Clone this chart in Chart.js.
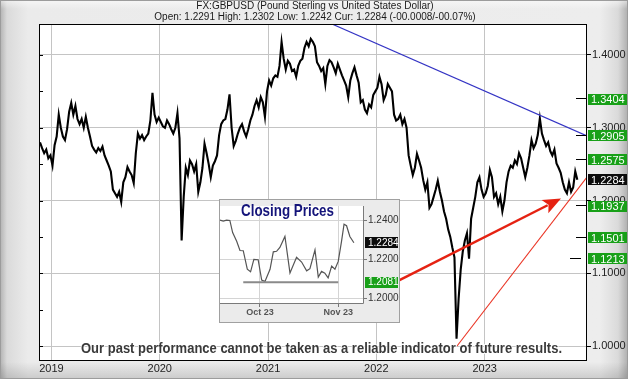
<!DOCTYPE html>
<html>
<head>
<meta charset="utf-8">
<script src="https://cdn.jsdelivr.net/npm/chart.js@4.4.0/dist/chart.umd.min.js"></script>
<style>
  html, body { margin: 0; padding: 0; background: #d0d0d0; }
  #wrap {
    position: relative; width: 628px; height: 379px; overflow: hidden;
    background:
      linear-gradient(to bottom, rgba(255,255,255,0.55), rgba(255,255,255,0) 9px, rgba(0,0,0,0) 362px, rgba(0,0,0,0.14) 379px),
      linear-gradient(to right, #b2b2b2 0, #dadada 7px, #ebebeb 28px, #ededed 600px, #dadada 618px, #aeaeae 628px);
    box-shadow: inset 0 0 0 1px #9c9c9c;
  }
  #main { position: absolute; left: 0; top: 0; }
  #inset { position: absolute; left: 219px; top: 199px; }
</style>
</head>
<body>
<div id="wrap">
  <canvas id="main" width="628" height="379"></canvas>
  <canvas id="inset" width="181" height="124"></canvas>
</div>
<script>
// weekly closes (GBPUSD)
const weeks2018 = [1.280, 1.272, 1.265, 1.270, 1.258, 1.262]; // from week 46
const weeks2019 = [1.248, 1.276, 1.288, 1.318, 1.300, 1.288, 1.283, 1.298, 1.322, 1.334,
  1.318, 1.330, 1.312, 1.305, 1.312, 1.300, 1.315, 1.300, 1.288, 1.275,
  1.270, 1.266, 1.272, 1.268, 1.274, 1.262, 1.255, 1.248, 1.240, 1.215,
  1.210, 1.205, 1.212, 1.198, 1.225, 1.232, 1.246, 1.240, 1.235, 1.224,
  1.265, 1.292, 1.285, 1.290, 1.283, 1.288, 1.292, 1.310, 1.348, 1.318,
  1.308, 1.314];
const weeks2020 = [1.308, 1.302, 1.300, 1.310, 1.305, 1.298, 1.292, 1.300, 1.320, 1.285,
  1.145, 1.205, 1.245, 1.235, 1.255, 1.250, 1.240, 1.250, 1.212, 1.225,
  1.245, 1.278, 1.265, 1.250, 1.232, 1.248, 1.254, 1.262, 1.290, 1.305,
  1.310, 1.312, 1.325, 1.346, 1.300, 1.275, 1.282, 1.292, 1.300, 1.305,
  1.295, 1.288, 1.298, 1.310, 1.318, 1.330, 1.338, 1.328, 1.342, 1.335,
  1.315, 1.350];
const weeks2021 = [1.365, 1.358, 1.368, 1.372, 1.370, 1.385, 1.418, 1.395, 1.380, 1.392,
  1.388, 1.378, 1.380, 1.370, 1.385, 1.392, 1.395, 1.410, 1.418, 1.412,
  1.422, 1.418, 1.412, 1.390, 1.385, 1.378, 1.382, 1.360, 1.385, 1.393,
  1.390, 1.383, 1.375, 1.388, 1.380, 1.372, 1.365, 1.358, 1.342, 1.365,
  1.375, 1.383, 1.372, 1.362, 1.335, 1.338, 1.325, 1.320, 1.332, 1.328,
  1.345, 1.350];
const weeks2022 = [1.355, 1.370, 1.360, 1.338, 1.345, 1.360, 1.355, 1.350, 1.318, 1.310,
  1.312, 1.318, 1.305, 1.312, 1.300, 1.262, 1.248, 1.235, 1.245, 1.264,
  1.255, 1.245, 1.228, 1.215, 1.225, 1.190, 1.195, 1.205, 1.215, 1.227,
  1.212, 1.200, 1.185, 1.175, 1.160, 1.150, 1.135, 1.122, 1.010, 1.065,
  1.105, 1.130, 1.145, 1.155, 1.120, 1.175, 1.190, 1.205, 1.225, 1.232,
  1.215, 1.205];
const weeks2023 = [1.210, 1.220, 1.242, 1.232, 1.205, 1.210, 1.195, 1.205, 1.185, 1.200,
  1.225, 1.240, 1.248, 1.245, 1.255, 1.250, 1.265, 1.258, 1.245, 1.232,
  1.245, 1.262, 1.283, 1.272, 1.278, 1.290, 1.313, 1.292, 1.283, 1.275,
  1.280, 1.268, 1.262, 1.270, 1.251, 1.245, 1.238, 1.225, 1.215, 1.210,
  1.225, 1.212, 1.218, 1.240, 1.2284];

const yearTicks = [2019, 2020, 2021, 2022, 2023];
const priceTicks = [1.0, 1.1, 1.2, 1.3, 1.4];
const minorPriceTicks = [1.00, 1.05, 1.10, 1.15, 1.20, 1.25, 1.30, 1.35, 1.40];
const levelValues = [1.3404, 1.2905, 1.2575, 1.1937, 1.1501, 1.1213];
const currentClose = 1.2284;

// trend lines and arrow, in (year, price)
const resistanceLine = [{ x: 2021.59, y: 1.4426 }, { x: 2023.945, y: 1.2887 }];
const supportLine = [{ x: 2022.745, y: 1.0 }, { x: 2023.945, y: 1.2323 }];
const arrowFrom = { x: 2022.20, y: 1.0894 };
const arrowTo = { x: 2023.705, y: 1.2028 };

// inset: closing prices, days from 1 Oct 2023
const insetDays = [-15.8, -14.5, -13.2, -11.9, -10.8, -9.2, -7.9, -6.6, -5.0, -3.7,
  -2.4, -0.7, 0.7, 2.0, 4.0, 5.3, 6.6, 7.9, 9.9, 11.9,
  14.5, 16.5, 18.5, 19.8, 21.8, 23.1, 24.4, 25.7, 27.0, 28.4,
  29.7, 31.0, 32.3, 33.3, 34.3, 35.6, 37.2];
const insetCloses = [1.2400, 1.2395, 1.2400, 1.2398, 1.2336, 1.2291, 1.2244, 1.2243, 1.2148, 1.2135,
  1.2199, 1.2197, 1.2093, 1.2085, 1.2148, 1.2237, 1.2240, 1.2260, 1.2316, 1.2129,
  1.2209, 1.2185, 1.2140, 1.2151, 1.2247, 1.2108, 1.2137, 1.2128, 1.2104, 1.2164,
  1.2148, 1.2188, 1.2291, 1.2379, 1.2371, 1.2316, 1.2284];
const insetPriceTicks = [1.20, 1.22, 1.24];
const insetMonthTicks = [0, 31];
const insetMonthLabels = ['Oct 23', 'Nov 23'];
const insetSupport = 1.2081;
const insetSupportDays = [-6.6, 31];

const titleText = 'FX:GBPUSD (Pound Sterling vs United States Dollar)';
const subtitleText = 'Open: 1.2291 High: 1.2302 Low: 1.2242 Cur: 1.2284 (-00.0008/-00.07%)';
const disclaimerText = 'Our past performance cannot be taken as a reliable indicator of future results.';

const FONT = "'Liberation Sans', Arial, sans-serif";
const GREEN = '#18a018';

function weekly(year, firstWeek, values) {
  return values.map((v, i) => ({ x: year + (firstWeek + i + 0.5) / 52, y: v }));
}
const closeSeries = [
  ...weekly(2018, 46, weeks2018),
  ...weekly(2019, 0, weeks2019),
  ...weekly(2020, 0, weeks2020),
  ...weekly(2021, 0, weeks2021),
  ...weekly(2022, 0, weeks2022),
  ...weekly(2023, 0, weeks2023)
];

function labelBox(ctx, x, y, w, h, bg, text, font) {
  ctx.fillStyle = bg;
  ctx.fillRect(x, Math.round(y - h / 2), w, h);
  ctx.fillStyle = '#fff';
  ctx.font = font;
  ctx.textAlign = 'left';
  ctx.textBaseline = 'middle';
  ctx.fillText(text, x + 3, Math.round(y) + 0.5);
}

function drawArrow(ctx, x1, y1, x2, y2) {
  const ang = Math.atan2(y2 - y1, x2 - x1);
  const len = 18, half = 7.5;
  const bx = x2 - len * Math.cos(ang), by = y2 - len * Math.sin(ang);
  ctx.strokeStyle = '#e52212';
  ctx.lineWidth = 2.5;
  ctx.beginPath();
  ctx.moveTo(x1, y1);
  ctx.lineTo(bx + 3 * Math.cos(ang), by + 3 * Math.sin(ang));
  ctx.stroke();
  ctx.fillStyle = '#e52212';
  ctx.beginPath();
  ctx.moveTo(x2, y2);
  ctx.lineTo(bx + half * Math.sin(ang), by - half * Math.cos(ang));
  ctx.lineTo(bx + 4 * Math.cos(ang), by + 4 * Math.sin(ang));
  ctx.lineTo(bx - half * Math.sin(ang), by + half * Math.cos(ang));
  ctx.closePath();
  ctx.fill();
}

const mainDecor = {
  id: 'mainDecor',
  beforeDraw(chart) {
    const { ctx, chartArea: a } = chart;
    ctx.save();
    ctx.fillStyle = '#fff';
    ctx.fillRect(a.left, a.top, a.right - a.left, a.bottom - a.top);
    ctx.restore();
  },
  afterDatasetsDraw(chart) {
    const { ctx, scales: { x, y } } = chart;
    ctx.save();
    drawArrow(ctx, x.getPixelForValue(arrowFrom.x), y.getPixelForValue(arrowFrom.y),
      x.getPixelForValue(arrowTo.x), y.getPixelForValue(arrowTo.y));
    ctx.restore();
  },
  afterDraw(chart) {
    const { ctx, chartArea: a, scales: { y } } = chart;
    ctx.save();
    // plot frame
    ctx.strokeStyle = '#000';
    ctx.lineWidth = 1;
    ctx.strokeRect(a.left + 0.5, a.top + 0.5, a.right - a.left - 1, a.bottom - a.top);
    // minor ticks on the left edge
    ctx.beginPath();
    minorPriceTicks.forEach(v => {
      const py = Math.round(y.getPixelForValue(v)) + 0.5;
      ctx.moveTo(a.left, py);
      ctx.lineTo(a.left + 4, py);
    });
    ctx.stroke();
    // level markers and boxes
    const boxFont = `11px ${FONT}`;
    levelValues.forEach((v, i) => {
      const py = Math.round(y.getPixelForValue(v)) + 0.5;
      const x0 = i === levelValues.length - 1 ? a.right - 17 : a.right - 11;
      ctx.strokeStyle = '#000';
      ctx.beginPath();
      ctx.moveTo(x0, py);
      ctx.lineTo(x0 + 11, py);
      ctx.stroke();
      labelBox(ctx, a.right + 1, y.getPixelForValue(v) + 1, 39, 11, GREEN, v.toFixed(4), boxFont);
    });
    labelBox(ctx, a.right + 1, y.getPixelForValue(currentClose), 39, 11, '#0c0c0c', currentClose.toFixed(4), boxFont);
    // titles
    ctx.fillStyle = '#1a1a1a';
    ctx.textAlign = 'center';
    ctx.textBaseline = 'middle';
    ctx.font = `10px ${FONT}`;
    ctx.fillText(titleText, 315, 6.5, 238);
    ctx.fillText(subtitleText, 315, 17.5, 340);
    // disclaimer
    ctx.font = `bold 15px ${FONT}`;
    ctx.lineWidth = 2;
    ctx.strokeStyle = 'rgba(255,255,255,0.9)';
    ctx.strokeText(disclaimerText, 321.5, 348.5, 481);
    ctx.fillStyle = '#3a3a3a';
    ctx.fillText(disclaimerText, 321.5, 348.5, 481);
    ctx.restore();
  }
};

new Chart(document.getElementById('main'), {
  type: 'line',
  data: {
    datasets: [
      { data: resistanceLine, borderColor: '#3434c4', borderWidth: 1.2, pointRadius: 0, order: 1 },
      { data: supportLine, borderColor: '#ea3424', borderWidth: 1.1, pointRadius: 0, order: 1 },
      { data: closeSeries, borderColor: '#000', borderWidth: 2.1, pointRadius: 0, tension: 0, order: 3 }
    ]
  },
  options: {
    responsive: false,
    animation: false,
    devicePixelRatio: 1,
    layout: { padding: { left: 39, top: 24, right: 0, bottom: 0 } },
    plugins: { legend: { display: false }, tooltip: { enabled: false } },
    scales: {
      x: {
        type: 'linear',
        min: 2018.885,
        max: 2023.945,
        afterBuildTicks: s => { s.ticks = yearTicks.map(v => ({ value: v })); },
        afterFit: s => { s.height = 19; },
        grid: { color: '#c4c4c4', drawTicks: false },
        border: { display: false },
        ticks: { autoSkip: false, maxRotation: 0, padding: 2, color: '#222', font: { family: FONT, size: 11 }, callback: v => String(v) }
      },
      y: {
        position: 'right',
        min: 0.9808,
        max: 1.4426,
        afterBuildTicks: s => { s.ticks = priceTicks.map(v => ({ value: v })); },
        afterFit: s => { s.width = 41; },
        grid: { color: '#c4c4c4', tickColor: '#000', tickLength: 4 },
        border: { display: false },
        ticks: { padding: 1, color: '#222', font: { family: FONT, size: 11 }, callback: v => v.toFixed(4) }
      }
    }
  },
  plugins: [mainDecor]
});

const insetDecor = {
  id: 'insetDecor',
  beforeDraw(chart) {
    const { ctx, chartArea: a, width, height } = chart;
    ctx.save();
    ctx.fillStyle = '#ebebeb';
    ctx.fillRect(0, 0, width, height);
    ctx.fillStyle = '#fff';
    ctx.fillRect(a.left, a.top, a.right - a.left, a.bottom - a.top);
    ctx.restore();
  },
  afterDraw(chart) {
    const { ctx, chartArea: a, width, height, scales: { y } } = chart;
    ctx.save();
    ctx.strokeStyle = '#7a7a7a';
    ctx.lineWidth = 1;
    ctx.beginPath();
    ctx.moveTo(a.right - 0.5, a.top);
    ctx.lineTo(a.right - 0.5, a.bottom - 0.5);
    ctx.lineTo(a.left, a.bottom - 0.5);
    ctx.stroke();
    ctx.strokeStyle = '#a0a0a0';
    ctx.strokeRect(0.5, 0.5, width - 1, height - 1);
    const f = `10px ${FONT}`;
    labelBox(ctx, a.right + 1, y.getPixelForValue(currentClose), 33, 11, '#0c0c0c', currentClose.toFixed(4), f);
    labelBox(ctx, a.right + 1, y.getPixelForValue(insetSupport), 33, 11, GREEN, insetSupport.toFixed(4), f);
    ctx.fillStyle = '#14147a';
    ctx.font = `bold 17px 'Liberation Sans Narrow', ${FONT}`;
    ctx.textAlign = 'left';
    ctx.textBaseline = 'alphabetic';
    ctx.fillText('Closing Prices', 22, 17, 93);
    ctx.restore();
  }
};

new Chart(document.getElementById('inset'), {
  type: 'line',
  data: {
    datasets: [
      { data: insetSupportDays.map(d => ({ x: d, y: insetSupport })), borderColor: '#8a8a8a', borderWidth: 2, pointRadius: 0 },
      { data: insetDays.map((d, i) => ({ x: d, y: insetCloses[i] })), borderColor: '#555', borderWidth: 1.2, pointRadius: 0, tension: 0 }
    ]
  },
  options: {
    responsive: false,
    animation: false,
    devicePixelRatio: 1,
    layout: { padding: 0 },
    plugins: { legend: { display: false }, tooltip: { enabled: false } },
    scales: {
      x: {
        type: 'linear',
        min: -16.2,
        max: 41.2,
        afterBuildTicks: s => { s.ticks = insetMonthTicks.map(v => ({ value: v })); },
        afterFit: s => { s.height = 19; },
        grid: { color: '#d4d4d4', tickColor: '#777', tickLength: 3 },
        border: { display: false },
        ticks: { autoSkip: false, maxRotation: 0, padding: 0, color: '#555', font: { family: FONT, size: 9, weight: 'bold' },
          callback: v => insetMonthLabels[insetMonthTicks.indexOf(v)] }
      },
      y: {
        position: 'right',
        min: 1.1970,
        max: 1.2472,
        afterBuildTicks: s => { s.ticks = insetPriceTicks.map(v => ({ value: v })); },
        afterFit: s => { s.width = 36; },
        grid: { color: '#d4d4d4', tickColor: '#777', tickLength: 3 },
        border: { display: false },
        ticks: { padding: 1, color: '#333', font: { family: FONT, size: 10 }, callback: v => v.toFixed(4) }
      }
    }
  },
  plugins: [insetDecor]
});
</script>
</body>
</html>
